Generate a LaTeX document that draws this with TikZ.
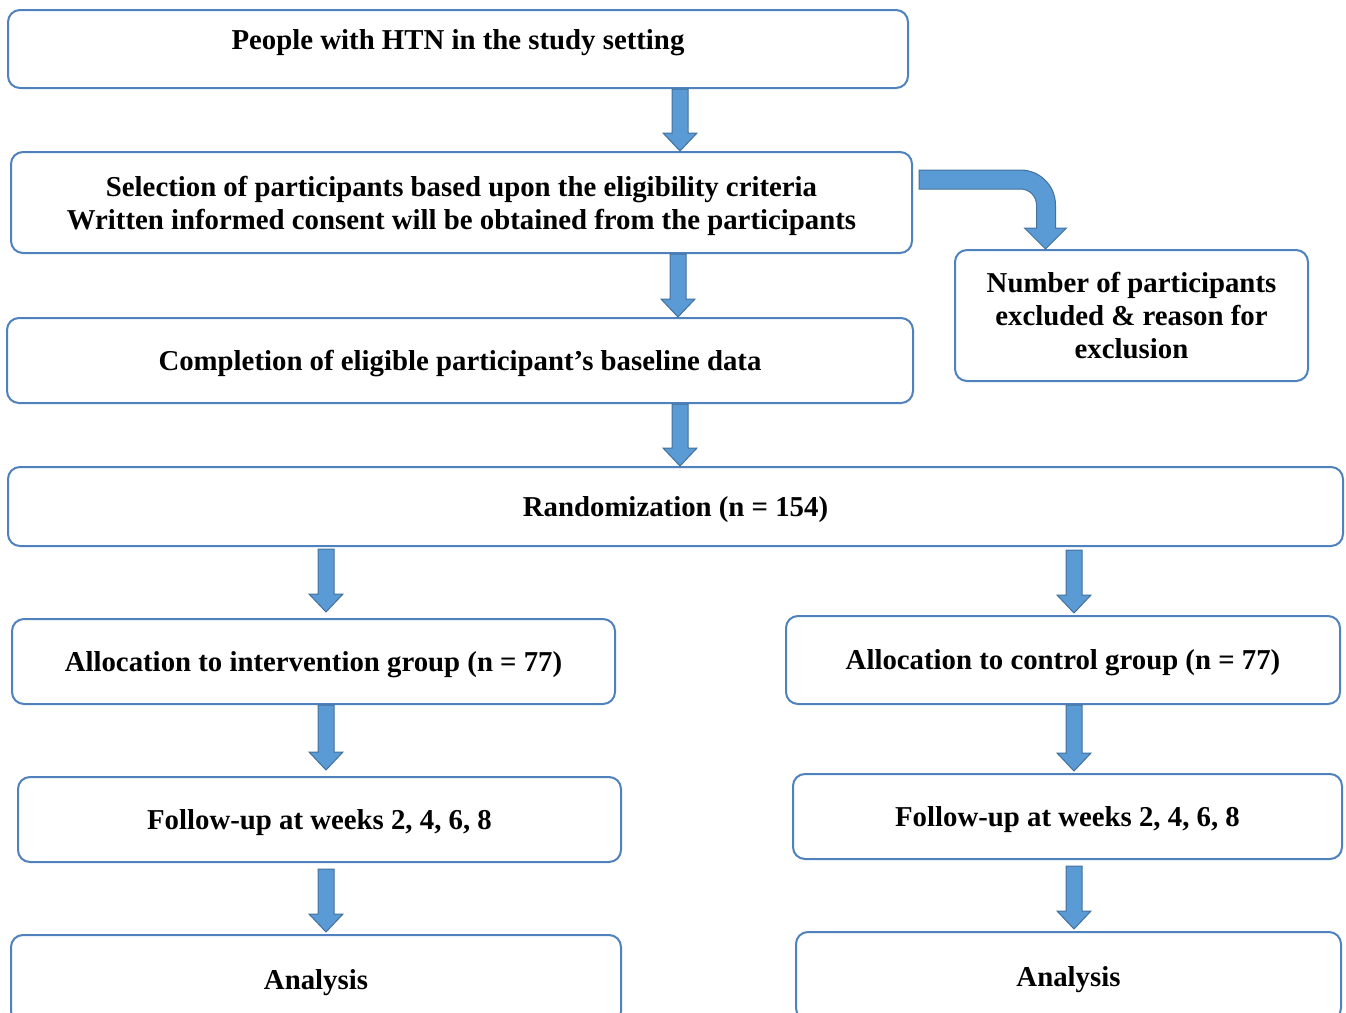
\documentclass[tikz,border=0pt]{standalone}
\usepackage{fontspec}
\setmainfont{Liberation Serif}
\usetikzlibrary{calc}
\definecolor{boxline}{HTML}{4F81BD}
\definecolor{arrfill}{HTML}{5B9BD5}
\definecolor{arrline}{HTML}{41719C}
\tikzset{
	box/.style={draw=boxline, line width=1pt, rounded corners=6pt, align=center,
		inner sep=0pt, text depth=0pt, font=\bfseries\fontsize{14.4}{16.5}\selectfont},
	blockarr/.style={fill=arrfill, draw=arrline, line width=0.5pt},
}
% down arrow: #1 top of shaft, #2 gives the tip height
\newcommand{\blockdown}[2]{%
	\filldraw[blockarr] let \p1=#1, \p2=#2 in
		(\x1-4pt,\y1) -- (\x1+4pt,\y1) -- (\x1+4pt,\y2+9pt) -- (\x1+8.5pt,\y2+9pt)
		-- (\x1,\y2) -- (\x1-8.5pt,\y2+9pt) -- (\x1-4pt,\y2+9pt) -- cycle;}
\begin{document}
\begin{tikzpicture}[x=0.5pt, y=0.5pt]
		\clip (0,0) rectangle (1346,-1013);
		\coordinate (spine) at (680,0);
		\coordinate (lspine) at (326,0);
		\coordinate (rspine) at (1074,0);
		\node[box, minimum width=450pt, minimum height=39pt, text depth=9pt] (people) at (458,-49)
			{People with HTN in the study setting};
		\node[box, minimum width=450.5pt, minimum height=50.5pt] (select) at (461.5,-202.5)
			{Selection of participants based upon the eligibility criteria\\
			 Written informed consent will be obtained from the participants};
		\node[box, minimum width=453pt, minimum height=42.5pt] (compl) at (460,-360.5)
			{Completion of eligible participant’s baseline data};
		\node[box, minimum width=176.5pt, minimum height=65.5pt] (excl) at (1131.5,-315.5)
			{Number of participants\\ excluded \& reason for\\ exclusion};
		\node[box, minimum width=667.5pt, minimum height=39.5pt] (rand) at (675.5,-506.5)
			{Randomization (n = 154)};
		\node[box, minimum width=301.5pt, minimum height=42.5pt] (alloci) at (313.5,-661.5)
			{Allocation to intervention group (n = 77)};
		\node[box, minimum width=277pt, minimum height=44pt] (allocc) at (1063,-660)
			{Allocation to control group (n = 77)};
		\node[box, minimum width=301.5pt, minimum height=42.5pt] (fui) at (319.5,-819.5)
			{Follow-up at weeks 2, 4, 6, 8};
		\node[box, minimum width=274.5pt, minimum height=42.5pt] (fuc) at (1067.5,-816.5)
			{Follow-up at weeks 2, 4, 6, 8};
		\node[box, minimum width=305pt, minimum height=44pt] (anai) at (316,-979)
			{Analysis};
		\node[box, minimum width=272.5pt, minimum height=44pt] (anac) at (1068.5,-976)
			{Analysis};
		% arrows down the middle
		\blockdown{(people.south -| spine)}{(select.north)}
		\blockdown{([xshift=-1pt]select.south -| spine)}{(compl.north)}
		\blockdown{(compl.south -| spine)}{(rand.north)}
		% left branch
		\blockdown{([yshift=-1pt]rand.south -| lspine)}{([yshift=3pt]alloci.north)}
		\blockdown{(alloci.south -| lspine)}{([yshift=3pt]fui.north)}
		\blockdown{([yshift=-3pt]fui.south -| lspine)}{([yshift=1pt]anai.north)}
		% right branch
		\blockdown{([yshift=-1.5pt]rand.south -| rspine)}{([yshift=1pt]allocc.north)}
		\blockdown{(allocc.south -| rspine)}{([yshift=1pt]fuc.north)}
		\blockdown{([yshift=-3pt]fuc.south -| rspine)}{([yshift=1pt]anac.north)}
		% bent arrow to the excluded box
		\filldraw[blockarr] let \p1=([shift={(3pt,-9.5pt)}]select.north east),
			\p2=([xshift=-43pt]excl.north) in
			(\x1,\y1) -- (\x2-12.5pt,\y1) arc[start angle=90, end angle=0, radius=17.5pt]
			-- (\x2+5pt,\y2+10.5pt) -- (\x2+10.5pt,\y2+10.5pt) -- (\x2,\y2)
			-- (\x2-10.5pt,\y2+10.5pt) -- (\x2-4.5pt,\y2+10.5pt)
			-- (\x2-4.5pt,\y1-17.5pt) arc[start angle=0, end angle=90, radius=8pt]
			-- (\x1,\y1-9.5pt) -- cycle;
\end{tikzpicture}
\end{document}
